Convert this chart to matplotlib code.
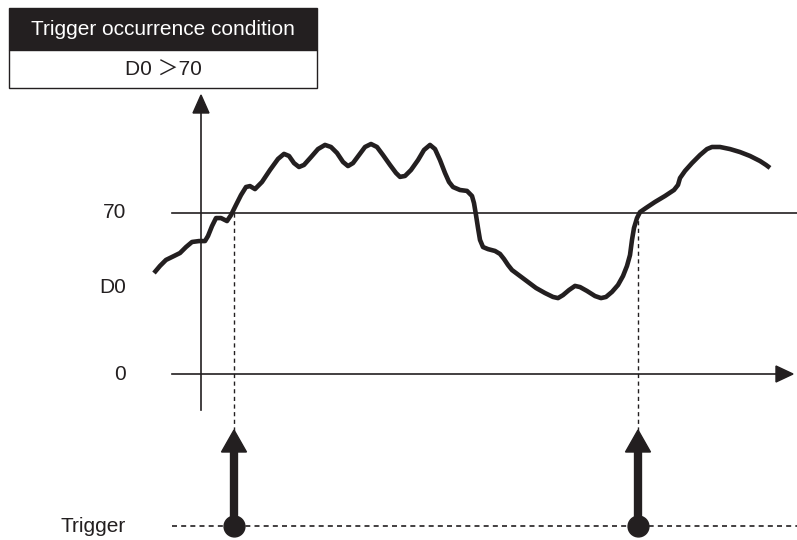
import matplotlib.pyplot as plt
from matplotlib.patches import Polygon, Rectangle

# time (horizontal position) and D0 value of the monitored curve
t = [154, 160, 166, 174, 180, 186, 192, 199, 205, 208, 212, 216, 221, 227, 231,
     236, 241, 246, 250, 255, 262, 270, 278, 284, 289, 294, 299, 304, 311, 318,
     325, 331, 337, 343, 348, 353, 359, 365, 371, 377, 383, 390, 396, 400, 405,
     411, 418, 424, 430, 435, 440, 445, 449, 453, 460, 467, 472, 474, 476, 478,
     480, 483, 488, 495, 500, 504, 508, 512, 520, 528, 536, 545, 553, 558, 563,
     569, 575, 580, 587, 595, 601, 606, 612, 618, 623, 627, 630, 632, 634, 637,
     640, 646, 655, 665, 674, 678, 680, 685, 692, 700, 707, 712, 720, 730, 740,
     750, 760, 766, 770]
d0 = [43.9, 47.0, 49.6, 51.3, 52.6, 55.2, 57.4, 57.8, 57.8, 60.0, 64.3, 67.8, 67.8, 66.5, 69.1,
      73.5, 77.8, 81.3, 81.7, 80.4, 83.5, 88.7, 93.5, 95.7, 94.8, 91.7, 90.0, 90.9, 94.3, 97.8,
      99.6, 98.7, 96.1, 92.2, 90.4, 91.7, 95.2, 98.7, 100.0, 98.7, 95.2, 90.9, 87.4, 85.7, 86.1,
      88.7, 93.0, 97.4, 99.6, 97.8, 93.0, 87.4, 83.5, 81.3, 80.0, 79.6, 77.4, 74.3, 69.1, 63.5,
      58.3, 55.2, 54.3, 53.5, 52.2, 50.0, 47.4, 45.2, 42.6, 40.0, 37.4, 35.2, 33.5, 33.0, 34.3,
      36.5, 38.3, 37.8, 36.1, 33.9, 33.0, 33.5, 35.7, 38.7, 42.6, 47.0, 51.7, 58.3, 63.5, 67.8,
      70.4, 72.2, 74.8, 77.4, 80.0, 82.2, 85.2, 88.3, 91.7, 95.2, 97.8, 98.7, 98.7, 97.8, 96.5,
      94.8, 92.6, 90.9, 89.6]

threshold = 70
d0_label_level = 37.8
trigger_times = [234, 638]

y_labels = ["70", "D0", "0"]
y_label_levels = [threshold, d0_label_level, 0]


def py(p):
    # pixel row -> D0 value units (0 at row 374, 70 at row 213)
    return (374 - p) / 2.3


plt.rcParams['font.family'] = ['Liberation Sans', 'Noto Sans CJK JP', 'DejaVu Sans']

fig = plt.figure(figsize=(7.97, 5.40), dpi=100)
ax = fig.add_axes([0, 0, 1, 1])
ax.set_xlim(0, 797)
ax.set_ylim(py(540), py(0))
ax.axis('off')

ink = '#231f20'
fs = 15

# condition box
ax.add_patch(Rectangle((9, py(50)), 308, py(8) - py(50), facecolor=ink, edgecolor=ink, lw=1))
ax.add_patch(Rectangle((9, py(88)), 308, py(50) - py(88), facecolor='white', edgecolor=ink, lw=1))
ax.text(163, py(30), "Trigger occurrence condition", color='white', fontsize=fs,
        ha='center', va='center')
ax.text(163, py(70), "D0 ＞70", color=ink, fontsize=fs, ha='center', va='center')

# axes
ax.plot([201, 201], [py(410), py(110)], color=ink, lw=1.2)
ax.add_patch(Polygon([(201, py(95)), (193, py(113)), (209, py(113))], closed=True,
                     facecolor=ink, edgecolor=ink))
ax.plot([172, 778], [0, 0], color=ink, lw=1.2)
ax.add_patch(Polygon([(793, 0), (776, py(366)), (776, py(382))], closed=True,
                     facecolor=ink, edgecolor=ink))
ax.plot([172, 797], [threshold, threshold], color=ink, lw=1.2)

for lab, lev in zip(y_labels, y_label_levels):
    ax.text(126, lev, lab, fontsize=fs, color=ink, ha='right', va='center')

# curve
ax.plot(t, d0, color=ink, lw=3.3, solid_joinstyle='round', solid_capstyle='butt')

# trigger line and events
ax.plot([172, 797], [py(526), py(526)], color=ink, lw=1.2, linestyle=(0, (3, 2.5)))
ax.text(126, py(526), "Trigger", fontsize=fs, color=ink, ha='right', va='center')

for tt in trigger_times:
    ax.plot([tt, tt], [threshold, py(432)], color=ink, lw=1, linestyle=(0, (3, 2.5)))
    ax.plot([tt, tt], [py(526), py(448)], color=ink, lw=6, solid_capstyle='butt')
    ax.add_patch(Polygon([(tt, py(430)), (tt - 12.5, py(452)), (tt + 12.5, py(452))],
                         closed=True, facecolor=ink, edgecolor=ink))
    ax.plot([tt], [py(526)], marker='o', markersize=15, color=ink)

fig.savefig("out.png", dpi=100)
